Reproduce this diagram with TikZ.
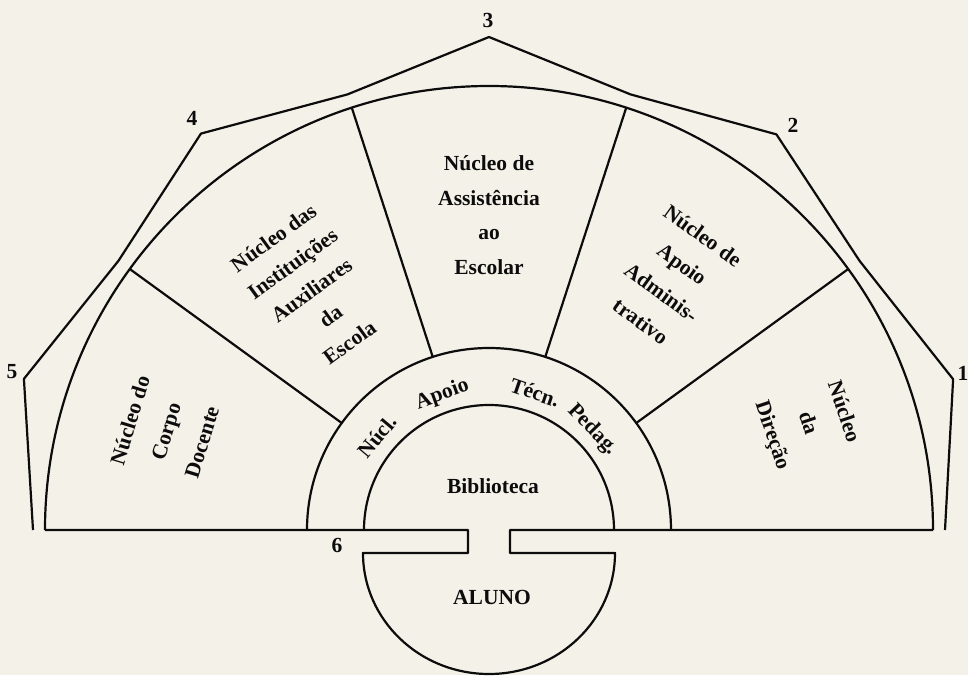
\documentclass[tikz,border=0pt]{standalone}
\usepackage{fontspec}
\setmainfont{Liberation Serif}
\definecolor{paper}{RGB}{243,241,232}
\definecolor{ink}{RGB}{12,12,12}
\tikzset{
  lbl/.style={text=ink, inner sep=0pt, align=center},
  fs/.style={font=\fontsize{21.5}{#1}\selectfont\bfseries},
  edge/.style={draw=ink, line width=2.2pt, line join=round}
}
\begin{document}
\begin{tikzpicture}[x=1pt,y=1pt]
\fill[paper] (-489,-145) rectangle (479,530);
\useasboundingbox (-489,-145) rectangle (479,530);

% outer polygon
\draw[edge] (180:456) -- (162:489) -- (144:458) -- (126:490) -- (108:458)
  -- (90:493) -- (72:458) -- (54:489) -- (36:458) -- (18:488) -- (0:456);

% arcs
\draw[edge] (444,0) arc[start angle=0,end angle=180,radius=444];
\draw[edge] (182,0) arc[start angle=0,end angle=180,radius=182];
\draw[edge] (125,0) arc[start angle=0,end angle=180,radius=125];
\foreach \a in {36,72,108,144} \draw[edge] (\a:182) -- (\a:444);

% base line with opening and ALUNO
\draw[edge] (-444,0) -- (-21,0) -- (-21,-23) -- (-126,-23)
  arc[start angle=180,end angle=360,x radius=126,y radius=121]
  -- (21,-23) -- (21,0) -- (444,0);

% sector texts
\node[lbl,fs=34.7] (assist) at (90:315) {Núcleo de\\Assistência\\ao\\Escolar};
\node[lbl,fs=32.3,rotate=36] (instit) at (126.5:298.5) {Núcleo das\\Instituições\\Auxiliares\\da\\Escola};
\node[lbl,fs=35.3,rotate=-36] (admin) at (54:311) {Núcleo de\\Apoio\\Adminis-\\trativo};
\node[lbl,fs=37.5,rotate=73] (docente) at (163:338) {Núcleo do\\Corpo\\Docente};
\node[lbl,fs=37.5,rotate=-71.5] (direcao) at (18.5:335.5) {Núcleo\\da\\Direção};

% ring texts
\node[lbl,fs=22,rotate=50] (nucl) at (140:146) {Núcl.};
\node[lbl,fs=22,rotate=20] (apoio) at (109:143) {Apoio};
\node[lbl,fs=22,rotate=-19] (tecn) at (71.5:145) {Técn.};
\node[lbl,fs=22,rotate=-46] (pedag) at (44:144) {Pedag.};

\node[lbl,fs=22] (bibl) at (4,44) {Biblioteca};
\node[lbl,fs=22] (aluno) at (3,-67) {ALUNO};

% numbers
\node[lbl,fs=22] (n1) at (474,157) {1};
\node[lbl,fs=22] (n2) at (304,405) {2};
\node[lbl,fs=22] (n3) at (-1,510) {3};
\node[lbl,fs=22] (n4) at (-297,412) {4};
\node[lbl,fs=22] (n5) at (-477,158) {5};
\node[lbl,fs=22] (n6) at (-152,-15) {6};
\end{tikzpicture}
\end{document}
